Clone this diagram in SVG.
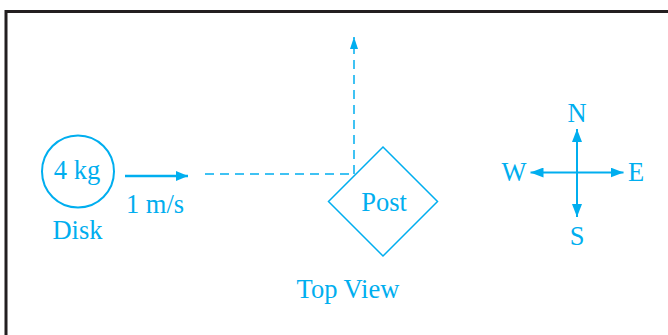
<svg xmlns="http://www.w3.org/2000/svg" width="668" height="335" viewBox="0 0 668 335">
<style>
.t{font-family:"Liberation Serif","Times New Roman",serif;font-size:26.5px;fill:#00AEEF;text-anchor:middle}
.s{stroke:#00AEEF;fill:none}
</style>
<defs>
<marker id="ah" viewBox="0 0 12 10" refX="12" refY="5" markerWidth="12" markerHeight="10" markerUnits="userSpaceOnUse" orient="auto">
<path d="M0,0 L12,5 L0,10 Z" fill="#00AEEF"/>
</marker>
<marker id="ah2" viewBox="0 0 13 10" refX="13" refY="5" markerWidth="13" markerHeight="10" markerUnits="userSpaceOnUse" orient="auto">
<path d="M0,0 L13,5 L0,10 Z" fill="#00AEEF"/>
</marker>
<marker id="ah3" viewBox="0 0 12 8" refX="12" refY="4" markerWidth="12" markerHeight="8" markerUnits="userSpaceOnUse" orient="auto">
<path d="M0,0 L12,4 L0,8 Z" fill="#00AEEF"/>
</marker>
</defs>
<rect width="668" height="335" fill="#fff"/>
<path d="M6,335 V11.5 H668" fill="none" stroke="#231f20" stroke-width="3"/>
<g id="disk">
<circle class="s" cx="78" cy="171.5" r="36" stroke-width="2"/>
<text class="t" x="77" y="178.5">4 kg</text>
<text class="t" x="77.5" y="238.5">Disk</text>
</g>
<g id="post">
<path class="s" d="M383,147 L437.5,201.5 L383,256 L328.5,201.5 Z" stroke-width="1.5"/>
<text class="t" x="384" y="210.5">Post</text>
</g>
<g id="compass">
<text class="t" x="577" y="122">N</text>
<text class="t" x="514" y="180.5">W</text>
<text class="t" x="636" y="180.5">E</text>
<text class="t" x="577" y="244.5">S</text>
</g>
<g id="labels">
<text class="t" x="155" y="212.5">1 m/s</text>
<text class="t" x="348" y="297.5">Top View</text>
</g>
<g id="connectors">
<line class="s" x1="125" y1="176" x2="188" y2="176" stroke-width="2.5" marker-end="url(#ah)"/>
<line class="s" x1="205" y1="174" x2="354" y2="174" stroke-width="1.5" stroke-dasharray="9,6"/>
<line class="s" x1="354" y1="174" x2="354" y2="37" stroke-width="1.5" stroke-dasharray="9,6" marker-end="url(#ah3)"/>
<line class="s" x1="577" y1="172.5" x2="577" y2="129" stroke-width="2" marker-end="url(#ah2)"/>
<line class="s" x1="577" y1="172.5" x2="577" y2="217" stroke-width="2" marker-end="url(#ah2)"/>
<line class="s" x1="577" y1="172.5" x2="530.5" y2="172.5" stroke-width="2" marker-end="url(#ah2)"/>
<line class="s" x1="577" y1="172.5" x2="623.5" y2="172.5" stroke-width="2" marker-end="url(#ah2)"/>
</g>
</svg>
